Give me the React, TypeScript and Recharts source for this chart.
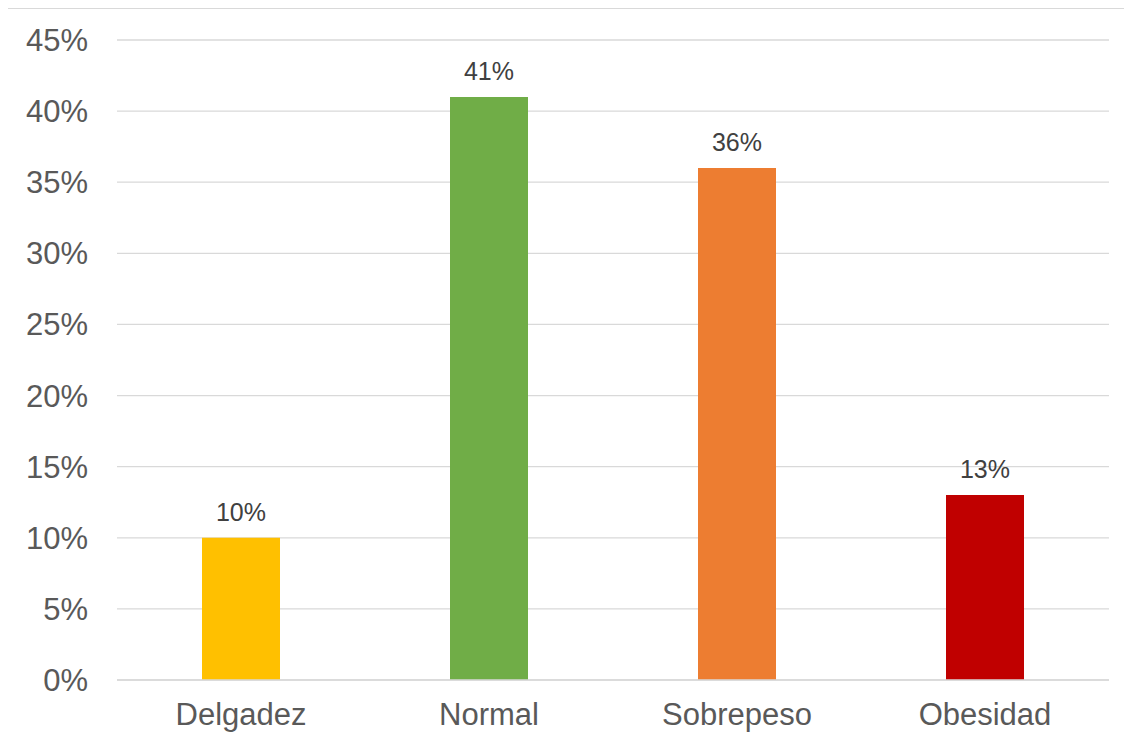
import React from "react";
import { BarChart, Bar, XAxis, YAxis, CartesianGrid, Cell, LabelList } from "recharts";

const categories = ["Delgadez", "Normal", "Sobrepeso", "Obesidad"];
const values = [0.10, 0.41, 0.36, 0.13];
const colors = ["#FFC000", "#70AD47", "#ED7D31", "#C00000"];
const yTicks = [0, 0.05, 0.1, 0.15, 0.2, 0.25, 0.3, 0.35, 0.4, 0.45];

const data = categories.map((c, i) => ({ name: c, value: values[i] }));
const pct = (v: number) => `${Math.round(v * 100)}%`;

export default function App() {
  return (
    <div
      style={{
        width: 1117,
        height: 730,
        borderLeft: "1px solid #d9d9d9",
        borderTop: "1px solid #d9d9d9",
        boxSizing: "border-box",
        marginLeft: -1,
        fontFamily: "'Liberation Sans', Arial, sans-serif",
        background: "#fff",
      }}
    >
      <BarChart
        width={1116}
        height={729}
        data={data}
        margin={{ top: 31, right: 15, left: 0, bottom: 0 }}
      >
        <CartesianGrid vertical={false} stroke="#d9d9d9" strokeWidth={1.3} />
        <XAxis
          dataKey="name"
          height={58}
          tickLine={false}
          axisLine={{ stroke: "#d9d9d9", strokeWidth: 1.3 }}
          tickMargin={17}
          tick={{ fill: "#595959", fontSize: 31 }}
        />
        <YAxis
          width={109}
          domain={[0, 0.45]}
          ticks={yTicks}
          tickFormatter={pct}
          axisLine={false}
          tickLine={false}
          tickMargin={23}
          tick={{ fill: "#595959", fontSize: 31 }}
        />
        <Bar dataKey="value" barSize={78} isAnimationActive={false}>
          {data.map((d, i) => (
            <Cell key={d.name} fill={colors[i]} />
          ))}
          <LabelList
            dataKey="value"
            position="top"
            offset={17}
            formatter={(v: any) => pct(Number(v))}
            style={{ fill: "#404040", fontSize: 25 }}
          />
        </Bar>
      </BarChart>
    </div>
  );
}
